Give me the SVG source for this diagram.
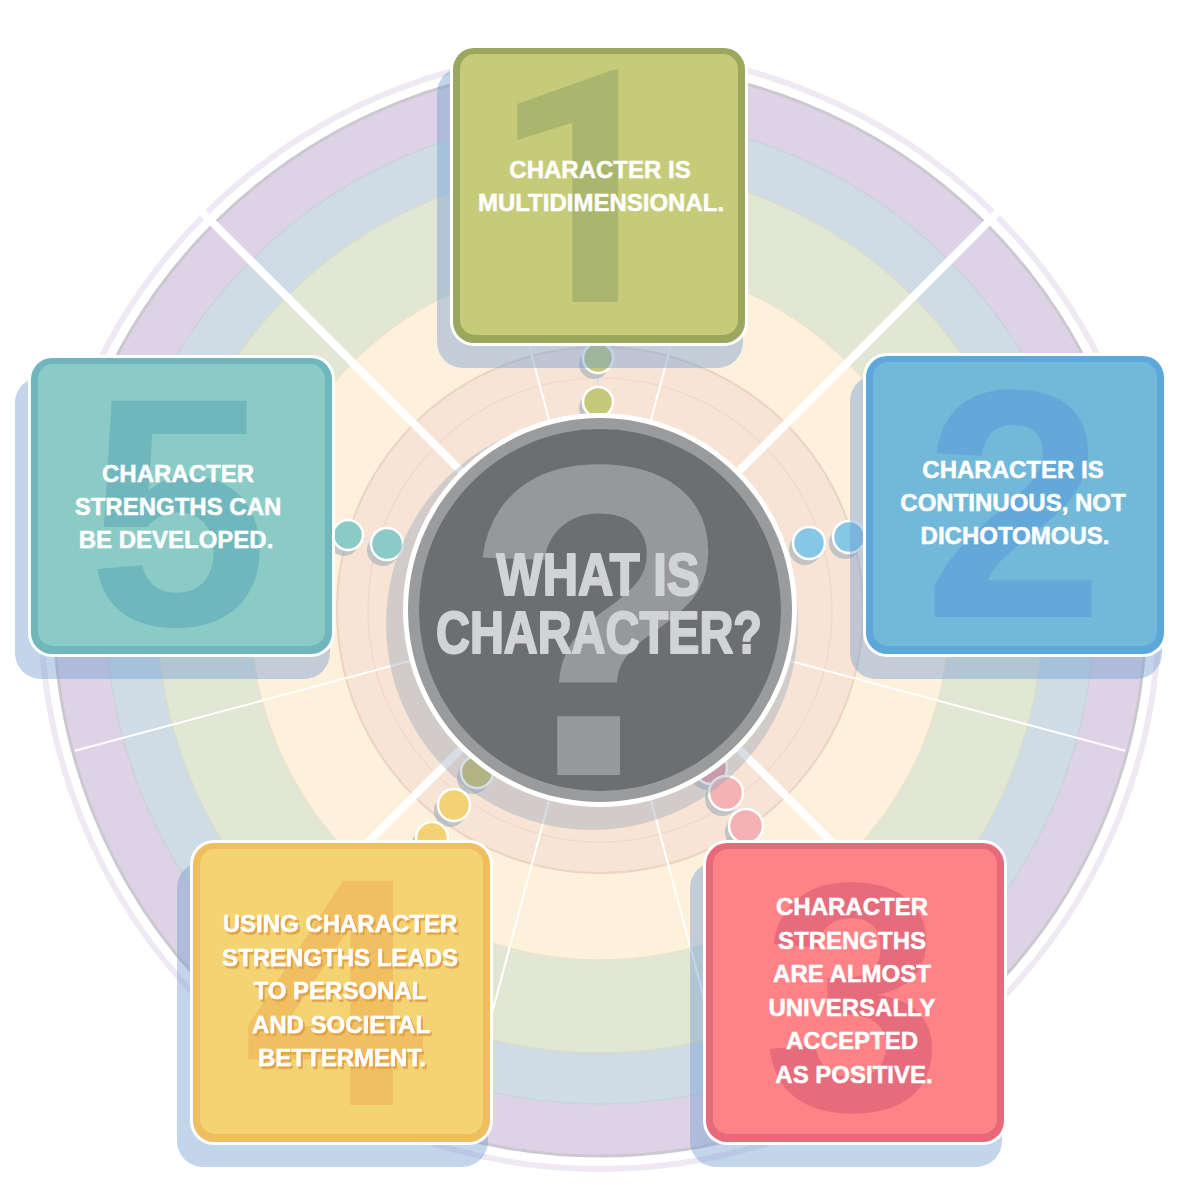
<svg xmlns="http://www.w3.org/2000/svg" width="1200" height="1200" viewBox="0 0 1200 1200">
<style>
.t{font-family:"Liberation Sans",Arial,sans-serif;font-weight:bold;fill:#ffffff;stroke:#ffffff;stroke-width:0.5;font-size:24px;text-anchor:middle}
.num{font-family:"Liberation Sans",Arial,sans-serif;font-weight:bold;font-size:326px;text-anchor:middle}
.ct{font-family:"Liberation Sans",Arial,sans-serif;font-weight:bold;fill:#d2d3d5;stroke:#d2d3d5;stroke-width:2.2;stroke-linejoin:round;font-size:60px;text-anchor:middle}
.bshadow{fill:#6f9bd0;opacity:.42}
.outer{fill:#ffffff}
.dot{stroke:#ffffff;stroke-width:2.5}
.dsh{fill:#98a7b4;opacity:.55}
.thick{stroke:#ffffff;stroke-width:8;stroke-linecap:butt}
.thin{stroke:#ffffff;stroke-width:2}
.link{stroke:#d6e4ef;stroke-width:2;fill:none}
</style>
<defs>
<filter id="ts" x="-10%" y="-20%" width="130%" height="150%">
<feDropShadow dx="2" dy="2.5" stdDeviation="0" flood-color="#e2a242" flood-opacity="1"/>
</filter>
</defs>
<rect width="1200" height="1200" fill="#ffffff"/>

<g id="rings">
<circle cx="600" cy="610" r="559" fill="none" stroke="#efe9f4" stroke-width="6"/>
<circle cx="600" cy="610" r="546" fill="#ded3e6" stroke="#ccc8d0" stroke-width="3"/>
<circle cx="600" cy="610" r="494" fill="#cfdce6" stroke="#c9d3dc" stroke-width="1.5"/>
<circle cx="600" cy="610" r="443" fill="#e1e6d5" stroke="#d9ddc9" stroke-width="1.5"/>
<circle cx="600" cy="610" r="350" fill="#fdf1dc" stroke="#ece3cc" stroke-width="1.5"/>
<circle cx="600" cy="610" r="263" fill="#f8e4d5" stroke="#ecd3c4" stroke-width="2"/>
<circle cx="600" cy="610" r="232" fill="none" stroke="#f1dacb" stroke-width="1.5"/>
</g>

<g id="spokes">
<line class="thick" x1="462" y1="472" x2="198" y2="208"/>
<line class="thick" x1="738" y1="472" x2="1002" y2="208"/>
<line class="thick" x1="738" y1="748" x2="1002" y2="1012"/>
<line class="thick" x1="462" y1="748" x2="198" y2="1012"/>
<line class="thin" x1="549.5" y1="421.6" x2="458.7" y2="82.6"/>
<line class="thin" x1="650.5" y1="421.6" x2="741.3" y2="82.6"/>
<line class="thin" x1="788.4" y1="660.5" x2="1125" y2="750.7"/>
<line class="thin" x1="411.6" y1="660.5" x2="75" y2="750.7"/>
<line class="thin" x1="650.5" y1="798.4" x2="741.3" y2="1137.4"/>
<line class="thin" x1="549.5" y1="798.4" x2="458.7" y2="1137.4"/>
</g>

<g id="connectors">
<line class="link" x1="598" y1="345" x2="598" y2="414"/>
<line class="link" x1="862" y1="535" x2="797" y2="546"/>
<line class="link" x1="333" y1="532" x2="404" y2="548"/>
<line class="link" x1="420" y1="855" x2="490" y2="752"/>
<line class="link" x1="760" y1="848" x2="700" y2="752"/>
<circle class="dsh" cx="594" cy="364" r="15"/>
<circle class="dot" cx="598" cy="358" r="15" fill="#c3c979"/>
<circle class="dsh" cx="594" cy="408" r="15"/>
<circle class="dot" cx="598" cy="402" r="15" fill="#c3c979"/>
<circle class="dsh" cx="845" cy="543" r="16"/>
<circle class="dot" cx="849" cy="537" r="16" fill="#86c7e7"/>
<circle class="dsh" cx="805" cy="549" r="16"/>
<circle class="dot" cx="809" cy="543" r="16" fill="#86c7e7"/>
<circle class="dsh" cx="344" cy="541" r="15"/>
<circle class="dot" cx="348" cy="535" r="15" fill="#8bcbc6"/>
<circle class="dsh" cx="383" cy="550" r="16"/>
<circle class="dot" cx="387" cy="544" r="16" fill="#8bcbc6"/>
<circle class="dsh" cx="473" cy="778" r="16"/>
<circle class="dot" cx="477" cy="772" r="16" fill="#c7bf6c"/>
<circle class="dsh" cx="450" cy="811" r="16"/>
<circle class="dot" cx="454" cy="805" r="16" fill="#f3d274"/>
<circle class="dsh" cx="428" cy="844" r="16"/>
<circle class="dot" cx="432" cy="838" r="16" fill="#f3d274"/>
<circle class="dsh" cx="707" cy="774" r="16"/>
<circle class="dot" cx="711" cy="768" r="16" fill="#e89aa4"/>
<circle class="dsh" cx="722" cy="799" r="17"/>
<circle class="dot" cx="726" cy="793" r="17" fill="#f6b1b4"/>
<circle class="dsh" cx="742" cy="832" r="17"/>
<circle class="dot" cx="746" cy="826" r="17" fill="#f6b1b4"/>
</g>

<g id="center">
<circle cx="592" cy="624" r="206" fill="#8a9fb5" opacity="0.35"/>
<circle cx="600" cy="610" r="197" fill="#ffffff"/>
<circle cx="600" cy="610" r="192" fill="#9a9b9d"/>
<circle cx="600" cy="610" r="181" fill="#6d6e70"/>
<text x="598" y="775" font-family="Liberation Sans, Arial, sans-serif" font-weight="bold" font-size="445" fill="#97989a" text-anchor="middle">?</text>
<text class="ct" x="598" y="595" textLength="203" lengthAdjust="spacingAndGlyphs">WHAT IS</text>
<text class="ct" x="599" y="653" textLength="326" lengthAdjust="spacingAndGlyphs">CHARACTER?</text>
</g>

<g id="box1">
<rect class="bshadow" x="437" y="67" width="306" height="301" rx="26"/>
<rect class="outer" x="450" y="45" width="298" height="301" rx="24"/>
<rect x="453" y="48" width="292" height="295" rx="21" fill="#9ca75e"/>
<rect x="460" y="54" width="278" height="281" rx="15" fill="#c5cb79"/>
<text class="num" x="584" y="302" fill="#aab66d" style="font-family:Roboto,'Open Sans',sans-serif">1</text>
<text class="t" x="600" y="178">CHARACTER IS</text>
<text class="t" x="601" y="211">MULTIDIMENSIONAL.</text>
</g>

<g id="box2">
<rect class="bshadow" x="850" y="375" width="312" height="304" rx="26"/>
<rect class="outer" x="863" y="353" width="304" height="304" rx="24"/>
<rect x="866" y="356" width="298" height="298" rx="21" fill="#5ea7db"/>
<rect x="873" y="362" width="284" height="284" rx="15" fill="#72b9d9"/>
<text class="num" x="1014" y="617" fill="#62a9da">2</text>
<text class="t" x="1013" y="478">CHARACTER IS</text>
<text class="t" x="1013" y="511">CONTINUOUS, NOT</text>
<text class="t" x="1015" y="544">DICHOTOMOUS.</text>
</g>

<g id="box3">
<rect class="bshadow" x="690" y="862" width="312" height="305" rx="26"/>
<rect class="outer" x="703" y="840" width="304" height="305" rx="24"/>
<rect x="706" y="843" width="298" height="299" rx="21" fill="#e86a7a"/>
<rect x="713" y="849" width="284" height="285" rx="15" fill="#fe8286"/>
<text class="num" x="853" y="1110" fill="#e66b7b">3</text>
<text class="t" x="852" y="915">CHARACTER</text>
<text class="t" x="852" y="948.5">STRENGTHS</text>
<text class="t" x="852" y="982">ARE ALMOST</text>
<text class="t" x="852" y="1015.5">UNIVERSALLY</text>
<text class="t" x="852" y="1049">ACCEPTED</text>
<text class="t" x="854" y="1082.5">AS POSITIVE.</text>
</g>

<g id="box4">
<rect class="bshadow" x="177" y="862" width="311" height="305" rx="26"/>
<rect class="outer" x="190" y="840" width="303" height="305" rx="24"/>
<rect x="193" y="843" width="297" height="299" rx="21" fill="#efbe5f"/>
<rect x="200" y="849" width="283" height="285" rx="15" fill="#f4d373"/>
<text class="num" x="334" y="1105" fill="#efbf62">4</text>
<g filter="url(#ts)">
<text class="t" x="340" y="932">USING CHARACTER</text>
<text class="t" x="340" y="966">STRENGTHS LEADS</text>
<text class="t" x="340" y="999">TO PERSONAL</text>
<text class="t" x="341" y="1033">AND SOCIETAL</text>
<text class="t" x="342" y="1066">BETTERMENT.</text>
</g>
</g>

<g id="box5">
<rect class="bshadow" x="15" y="377" width="315" height="302" rx="26"/>
<rect class="outer" x="28" y="355" width="307" height="302" rx="24"/>
<rect x="31" y="358" width="301" height="296" rx="21" fill="#70b7bd"/>
<rect x="38" y="364" width="287" height="282" rx="15" fill="#8bcbc6"/>
<text class="num" x="178" y="625" fill="#70b7bd">5</text>
<text class="t" x="178" y="482">CHARACTER</text>
<text class="t" x="178" y="515">STRENGTHS CAN</text>
<text class="t" x="176" y="548">BE DEVELOPED.</text>
</g>
</svg>
